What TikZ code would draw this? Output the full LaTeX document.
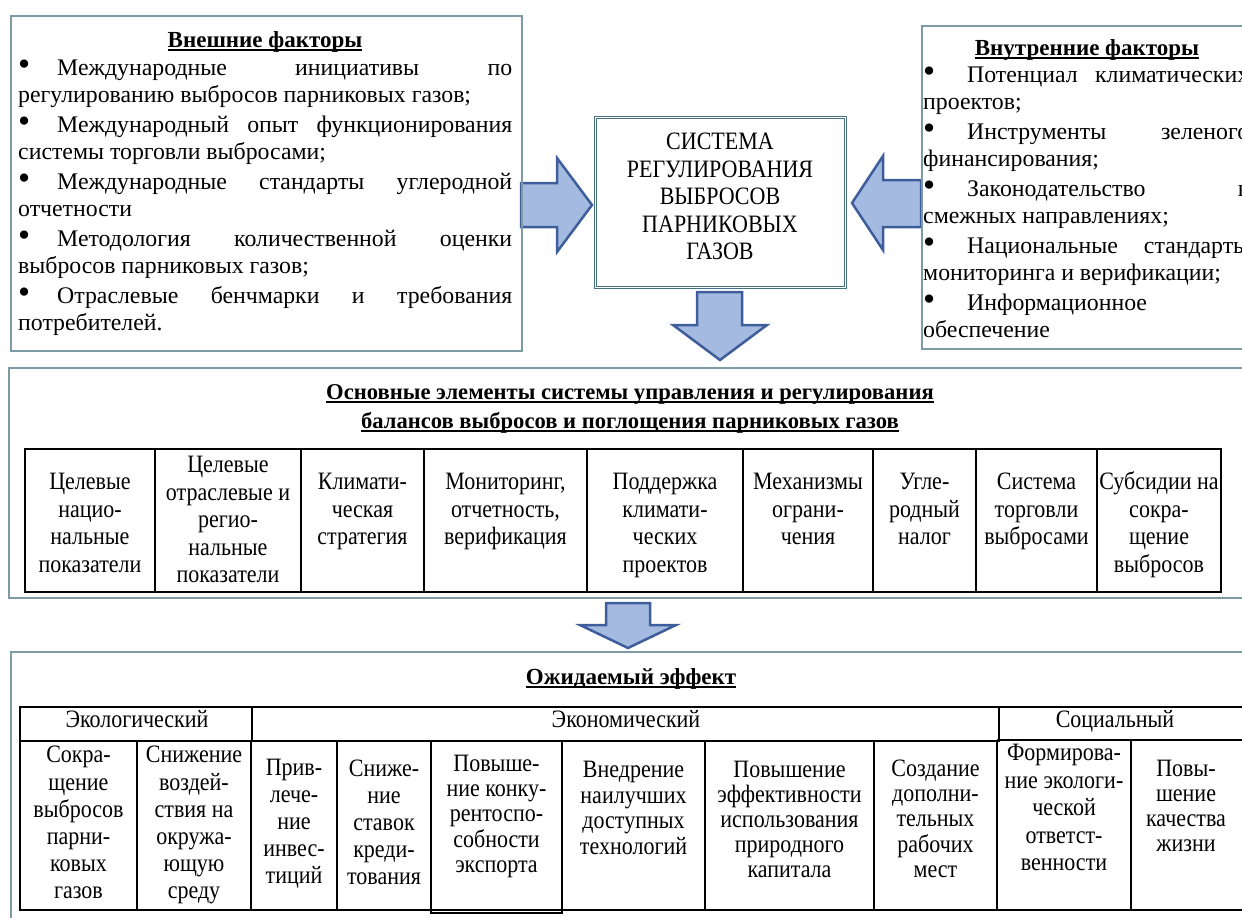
\documentclass[tikz,border=0pt]{standalone}
\usepackage{fontspec}
\setmainfont{Liberation Serif}
\definecolor{framec}{RGB}{125,155,165}
\definecolor{boxc}{RGB}{70,115,125}
\definecolor{arrfill}{RGB}{164,186,224}
\definecolor{arrdraw}{RGB}{62,93,155}
\newcommand\ulbar[1]{\setbox0\hbox{#1}\rlap{\rule[-4pt]{\wd0}{1.6pt}}\box0}
\newcommand\bul{\scalebox{1.45}{•}}
\newcommand\jlineL[1]{\makebox[494pt][s]{\makebox[39pt][l]{\bul}#1}}
\newcommand\jlineR[1]{\makebox[326pt][s]{\makebox[44pt][l]{\bul}#1}}
\newcommand\cond[1]{\scalebox{0.88}[1]{\begin{tabular}{@{}c@{}}#1\end{tabular}}}
\tikzset{
 frame/.style={draw=framec, line width=2pt, inner sep=0pt, anchor=north west},
 sysbox/.style={draw=boxc, double=white, double distance=1.6pt, line width=0.9pt, inner sep=0pt, anchor=north west},
 blockarrow/.style={fill=arrfill, draw=arrdraw, line width=2.5pt, line join=miter},
 grid/.style={draw=black, line width=1.3pt},
 bodytxt/.style={inner sep=0pt, font=\fontsize{23.8}{27}\selectfont, align=left, anchor=north west},
 ttl/.style={inner sep=0pt, font=\fontsize{23}{27}\selectfont\bfseries, anchor=base},
 celltxt/.style={inner sep=0pt, anchor=north, font=\fontsize{25}{#1}\selectfont},
 celltxt/.default=27.5,
 headtxt/.style={inner sep=0pt, anchor=base, font=\fontsize{25}{27}\selectfont},
}
\begin{document}
\begin{tikzpicture}[x=1pt,y=-1pt]
\useasboundingbox (0,0) rectangle (1242,918);
\clip (0,0) rectangle (1242,918);

% block arrows
\draw[blockarrow] (521,183) -- (557,183) -- (557,158) -- (592,205) -- (557,252) -- (557,227) -- (521,227) -- cycle;
\draw[blockarrow] (852,203) -- (883,156) -- (883,180) -- (921,180) -- (921,227) -- (883,227) -- (883,250) -- cycle;
\draw[blockarrow] (697,292) -- (742,292) -- (742,325) -- (767,325) -- (720,360) -- (673,325) -- (697,325) -- cycle;
\draw[blockarrow] (606,603) -- (650,603) -- (650,625) -- (676,625) -- (628,648) -- (580,625) -- (606,625) -- cycle;

% frames
\node[frame, minimum width=511pt, minimum height=335pt] (extbox) at (10,15) {};
\node[frame, minimum width=340pt, minimum height=323pt] (intbox) at (921,25) {};
\node[sysbox, minimum width=250pt, minimum height=170pt] (sys) at (595,117) {};
\node[frame, minimum width=1260pt, minimum height=230pt] (elbox) at (8,367) {};
\node[frame, minimum width=1260pt, minimum height=290pt] (effbox) at (10,651) {};

% left box
\node[ttl] (extttl) at (265,47) {\ulbar{Внешние факторы}};
\node[bodytxt] (exttxt) at (18,56.3) {\strut\jlineL{Международные инициативы по}\\
регулированию выбросов парниковых газов;\\[3pt]
\jlineL{Международный опыт функционирования}\\
системы торговли выбросами;\\[3pt]
\jlineL{Международные стандарты углеродной}\\
отчетности\\[3pt]
\jlineL{Методология количественной оценки}\\
выбросов парниковых газов;\\[3pt]
\jlineL{Отраслевые бенчмарки и требования}\\
потребителей.};

% right box
\node[ttl] (intttl) at (1087,55) {\ulbar{Внутренние факторы}};
\node[bodytxt] (inttxt) at (923,63.3) {\strut\jlineR{Потенциал климатических}\\
проектов;\\[3pt]
\jlineR{Инструменты зеленого}\\
финансирования;\\[3pt]
\jlineR{Законодательство в}\\
смежных направлениях;\\[3pt]
\jlineR{Национальные стандарты}\\
мониторинга и верификации;\\[3pt]
\makebox[44pt][l]{\bul}Информационное\\
обеспечение};

% system box text
\node[celltxt] (systxt) at (720,130.5) {\cond{СИСТЕМА\\ РЕГУЛИРОВАНИЯ\\ ВЫБРОСОВ\\ ПАРНИКОВЫХ\\ ГАЗОВ}};

% middle section
\node[ttl, font=\fontsize{22.6}{27}\selectfont\bfseries] (elttl1) at (630,399) {\ulbar{Основные элементы системы управления и регулирования}};
\node[ttl, font=\fontsize{22.6}{27}\selectfont\bfseries] (elttl2) at (630,428) {\ulbar{балансов выбросов и поглощения парниковых газов}};
\draw[grid] (25,449) rectangle (1221,592);
\foreach \x in {155,301,424,587,743,873,976,1097} \draw[grid] (\x,449) -- (\x,592);
\node[celltxt] (m1) at (90,470.4) {\cond{Целевые\\ нацио-\\ нальные\\ показатели}};
\node[celltxt] (m2) at (228,453.4) {\cond{Целевые\\ отраслевые и\\ регио-\\ нальные\\ показатели}};
\node[celltxt] (m3) at (362.5,470.4) {\cond{Климати-\\ ческая\\ стратегия}};
\node[celltxt] (m4) at (505.5,470.4) {\cond{Мониторинг,\\ отчетность,\\ верификация}};
\node[celltxt] (m5) at (665,470.4) {\cond{Поддержка\\ климати-\\ ческих\\ проектов}};
\node[celltxt] (m6) at (808,470.4) {\cond{Механизмы\\ ограни-\\ чения}};
\node[celltxt] (m7) at (924.5,470.4) {\cond{Угле-\\ родный\\ налог}};
\node[celltxt] (m8) at (1036.5,470.4) {\cond{Система\\ торговли\\ выбросами}};
\node[celltxt] (m9) at (1159,470.4) {\cond{Субсидии на\\ сокра-\\ щение\\ выбросов}};

% bottom section
\node[ttl] (effttl) at (631,684) {\ulbar{Ожидаемый эффект}};
\draw[grid] (20,707) rectangle (999,741);
\draw[grid] (252,707) -- (252,741);
\draw[grid] (999,707) -- (1250,707);
\draw[grid] (997,740) -- (1250,740);
\draw[grid] (20,741) rectangle (997,910);
\draw[grid] (997,910) -- (1250,910);
\foreach \x in {137,251,337,705,874} \draw[grid] (\x,741) -- (\x,910);
\draw[grid] (431,741) -- (431,913) -- (562,913) -- (562,741);
\draw[grid] (1131,740) -- (1131,910);
\node[headtxt] (hEco) at (137,727) {\scalebox{0.88}[1]{Экологический}};
\node[headtxt] (hEcon) at (626,727) {\scalebox{0.88}[1]{Экономический}};
\node[headtxt] (hSoc) at (1115,727) {\scalebox{0.88}[1]{Социальный}};
\node[celltxt=27.2] (b1) at (78.5,743.6) {\cond{Сокра-\\ щение\\ выбросов\\ парни-\\ ковых\\ газов}};
\node[celltxt=27.2] (b2) at (194,743.6) {\cond{Снижение\\ воздей-\\ ствия на\\ окружа-\\ ющую\\ среду}};
\node[celltxt=27] (b3) at (294,756.7) {\cond{Прив-\\ лече-\\ ние\\ инвес-\\ тиций}};
\node[celltxt=27] (b4) at (384,757.7) {\cond{Сниже-\\ ние\\ ставок\\ креди-\\ тования}};
\node[celltxt=25] (b5) at (496.5,754.1) {\cond{Повыше-\\ ние конку-\\ рентоспо-\\ собности\\ экспорта}};
\node[celltxt=25.5] (b6) at (633.5,759.7) {\cond{Внедрение\\ наилучших\\ доступных\\ технологий}};
\node[celltxt=25] (b7) at (789.5,760.1) {\cond{Повышение\\ эффективности\\ использования\\ природного\\ капитала}};
\node[celltxt=25] (b8) at (935.5,759.1) {\cond{Создание\\ дополни-\\ тельных\\ рабочих\\ мест}};
\node[celltxt=27.5] (b9) at (1064,741.4) {\cond{Формирова-\\ ние экологи-\\ ческой\\ ответст-\\ венности}};
\node[celltxt=25] (b10) at (1186,759.1) {\cond{Повы-\\ шение\\ качества\\ жизни}};
\end{tikzpicture}
\end{document}
